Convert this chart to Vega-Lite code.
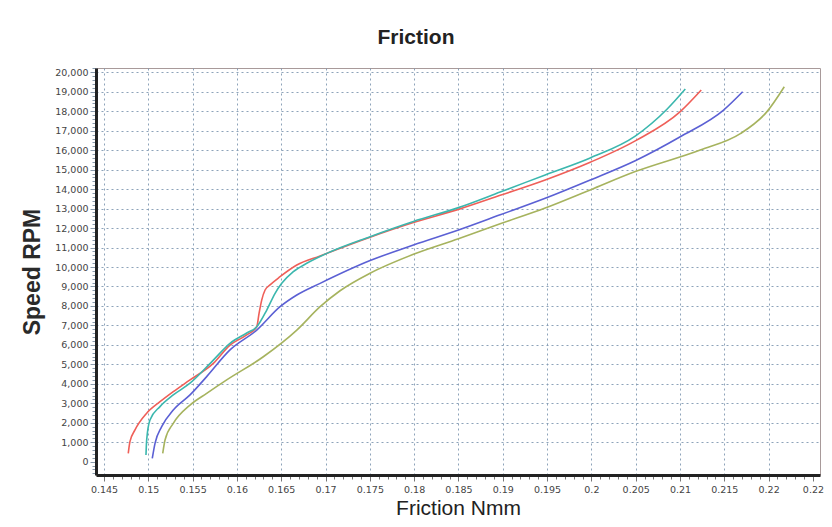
{
  "$schema": "https://vega.github.io/schema/vega-lite/v6.json",
  "width": 724,
  "height": 407,
  "autosize": "none",
  "padding": {"left": 96, "top": 68, "right": 12, "bottom": 52},
  "background": "white",
  "title": {"text": "Friction", "font": "Liberation Sans", "fontSize": 21, "fontWeight": "bold", "color": "#222222", "dx": -42, "offset": 15},
  "data": {"values": [
    {"run": "A", "friction": 0.14774, "speed": 430},
    {"run": "A", "friction": 0.14793, "speed": 1030},
    {"run": "A", "friction": 0.14850, "speed": 1630},
    {"run": "A", "friction": 0.14982, "speed": 2490},
    {"run": "A", "friction": 0.15132, "speed": 3080},
    {"run": "A", "friction": 0.15282, "speed": 3600},
    {"run": "A", "friction": 0.15471, "speed": 4200},
    {"run": "A", "friction": 0.15734, "speed": 5050},
    {"run": "A", "friction": 0.15922, "speed": 5990},
    {"run": "A", "friction": 0.16111, "speed": 6510},
    {"run": "A", "friction": 0.16224, "speed": 6930},
    {"run": "A", "friction": 0.16250, "speed": 7620},
    {"run": "A", "friction": 0.16280, "speed": 8300},
    {"run": "A", "friction": 0.16318, "speed": 8820},
    {"run": "A", "friction": 0.16374, "speed": 9080},
    {"run": "A", "friction": 0.16487, "speed": 9500},
    {"run": "A", "friction": 0.16676, "speed": 10100},
    {"run": "A", "friction": 0.16939, "speed": 10570},
    {"run": "A", "friction": 0.17503, "speed": 11530},
    {"run": "A", "friction": 0.17992, "speed": 12280},
    {"run": "A", "friction": 0.18500, "speed": 12960},
    {"run": "A", "friction": 0.18971, "speed": 13680},
    {"run": "A", "friction": 0.19479, "speed": 14470},
    {"run": "A", "friction": 0.19987, "speed": 15380},
    {"run": "A", "friction": 0.20495, "speed": 16480},
    {"run": "A", "friction": 0.21003, "speed": 17980},
    {"run": "A", "friction": 0.21240, "speed": 19090},
    {"run": "B", "friction": 0.14974, "speed": 340},
    {"run": "B", "friction": 0.14982, "speed": 1120},
    {"run": "B", "friction": 0.15019, "speed": 2140},
    {"run": "B", "friction": 0.15132, "speed": 2830},
    {"run": "B", "friction": 0.15282, "speed": 3430},
    {"run": "B", "friction": 0.15471, "speed": 4030},
    {"run": "B", "friction": 0.15734, "speed": 5220},
    {"run": "B", "friction": 0.15922, "speed": 6080},
    {"run": "B", "friction": 0.16111, "speed": 6610},
    {"run": "B", "friction": 0.16224, "speed": 6930},
    {"run": "B", "friction": 0.16337, "speed": 7790},
    {"run": "B", "friction": 0.16431, "speed": 8650},
    {"run": "B", "friction": 0.16506, "speed": 9160},
    {"run": "B", "friction": 0.16637, "speed": 9760},
    {"run": "B", "friction": 0.16788, "speed": 10190},
    {"run": "B", "friction": 0.17014, "speed": 10700},
    {"run": "B", "friction": 0.17503, "speed": 11560},
    {"run": "B", "friction": 0.17992, "speed": 12340},
    {"run": "B", "friction": 0.18500, "speed": 13050},
    {"run": "B", "friction": 0.18971, "speed": 13850},
    {"run": "B", "friction": 0.19479, "speed": 14730},
    {"run": "B", "friction": 0.19987, "speed": 15600},
    {"run": "B", "friction": 0.20495, "speed": 16720},
    {"run": "B", "friction": 0.20853, "speed": 18100},
    {"run": "B", "friction": 0.21060, "speed": 19140},
    {"run": "C", "friction": 0.15045, "speed": 175},
    {"run": "C", "friction": 0.15076, "speed": 945},
    {"run": "C", "friction": 0.15151, "speed": 1800},
    {"run": "C", "friction": 0.15282, "speed": 2655},
    {"run": "C", "friction": 0.15471, "speed": 3430},
    {"run": "C", "friction": 0.15659, "speed": 4370},
    {"run": "C", "friction": 0.15922, "speed": 5740},
    {"run": "C", "friction": 0.16224, "speed": 6760},
    {"run": "C", "friction": 0.16487, "speed": 7960},
    {"run": "C", "friction": 0.16676, "speed": 8560},
    {"run": "C", "friction": 0.16939, "speed": 9160},
    {"run": "C", "friction": 0.17503, "speed": 10330},
    {"run": "C", "friction": 0.17992, "speed": 11130},
    {"run": "C", "friction": 0.18500, "speed": 11900},
    {"run": "C", "friction": 0.18971, "speed": 12680},
    {"run": "C", "friction": 0.19479, "speed": 13530},
    {"run": "C", "friction": 0.19987, "speed": 14470},
    {"run": "C", "friction": 0.20495, "speed": 15460},
    {"run": "C", "friction": 0.21003, "speed": 16690},
    {"run": "C", "friction": 0.21492, "speed": 18060},
    {"run": "C", "friction": 0.21707, "speed": 19000},
    {"run": "D", "friction": 0.15163, "speed": 430},
    {"run": "D", "friction": 0.15189, "speed": 1115},
    {"run": "D", "friction": 0.15282, "speed": 1970},
    {"run": "D", "friction": 0.15471, "speed": 2910},
    {"run": "D", "friction": 0.15659, "speed": 3510},
    {"run": "D", "friction": 0.15885, "speed": 4200},
    {"run": "D", "friction": 0.16298, "speed": 5390},
    {"run": "D", "friction": 0.16676, "speed": 6760},
    {"run": "D", "friction": 0.16939, "speed": 7960},
    {"run": "D", "friction": 0.17164, "speed": 8780},
    {"run": "D", "friction": 0.17503, "speed": 9680},
    {"run": "D", "friction": 0.17992, "speed": 10650},
    {"run": "D", "friction": 0.18500, "speed": 11450},
    {"run": "D", "friction": 0.18971, "speed": 12220},
    {"run": "D", "friction": 0.19479, "speed": 13030},
    {"run": "D", "friction": 0.19987, "speed": 13960},
    {"run": "D", "friction": 0.20495, "speed": 14900},
    {"run": "D", "friction": 0.21229, "speed": 16010},
    {"run": "D", "friction": 0.21681, "speed": 16850},
    {"run": "D", "friction": 0.21982, "speed": 17980},
    {"run": "D", "friction": 0.22177, "speed": 19260}
  ]},
  "mark": {"type": "line", "strokeWidth": 1.6, "interpolate": "monotone"},
  "encoding": {
    "x": {
      "field": "friction", "type": "quantitative",
      "scale": {"domain": [0.1441, 0.2258], "nice": false, "zero": false},
      "axis": {
        "title": "Friction Nmm",
        "titleFont": "Liberation Sans", "titleFontSize": 21, "titleFontWeight": "normal", "titleColor": "#222222", "titlePadding": 4,
        "values": [0.144,0.145,0.146,0.147,0.148,0.149,0.15,0.151,0.152,0.153,0.154,0.155,0.156,0.157,0.158,0.159,0.16,0.161,0.162,0.163,0.164,0.165,0.166,0.167,0.168,0.169,0.17,0.171,0.172,0.173,0.174,0.175,0.176,0.177,0.178,0.179,0.18,0.181,0.182,0.183,0.184,0.185,0.186,0.187,0.188,0.189,0.19,0.191,0.192,0.193,0.194,0.195,0.196,0.197,0.198,0.199,0.2,0.201,0.202,0.203,0.204,0.205,0.206,0.207,0.208,0.209,0.21,0.211,0.212,0.213,0.214,0.215,0.216,0.217,0.218,0.219,0.22,0.221,0.222,0.223,0.224,0.225],
        "labelExpr": "abs(datum.value*200 - round(datum.value*200)) < 0.01 && datum.value > 0.1445 ? (datum.value > 0.2249 ? '0.22' : format(datum.value, '~g')) : ''",
        "labelOverlap": false,
        "labelFont": "DejaVu Sans", "labelFontSize": 9.5, "labelColor": "#444444", "labelPadding": 3,
        "domainColor": "#222222", "domainWidth": 3,
        "tickColor": "#777777", "tickWidth": 1,
        "tickSize": {"condition": {"test": "abs(datum.value*200 - round(datum.value*200)) < 0.01", "value": 6}, "value": 4},
        "grid": true, "gridColor": "#8199b3", "gridDash": [2, 3], "gridWidth": 1,
        "gridOpacity": {"condition": {"test": "abs(datum.value*200 - round(datum.value*200)) < 0.01 && datum.value > 0.1445 && datum.value < 0.2249", "value": 0.9}, "value": 0}
      }
    },
    "y": {
      "field": "speed", "type": "quantitative",
      "scale": {"domain": [-683, 20221], "nice": false, "zero": false},
      "axis": {
        "title": "Speed RPM",
        "titleFont": "Liberation Sans", "titleFontSize": 23, "titleFontWeight": "bold", "titleColor": "#2a2a2a", "titlePadding": 10,
        "values": [-600,-400,-200,0,200,400,600,800,1000,1200,1400,1600,1800,2000,2200,2400,2600,2800,3000,3200,3400,3600,3800,4000,4200,4400,4600,4800,5000,5200,5400,5600,5800,6000,6200,6400,6600,6800,7000,7200,7400,7600,7800,8000,8200,8400,8600,8800,9000,9200,9400,9600,9800,10000,10200,10400,10600,10800,11000,11200,11400,11600,11800,12000,12200,12400,12600,12800,13000,13200,13400,13600,13800,14000,14200,14400,14600,14800,15000,15200,15400,15600,15800,16000,16200,16400,16600,16800,17000,17200,17400,17600,17800,18000,18200,18400,18600,18800,19000,19200,19400,19600,19800,20000,20200],
        "labelExpr": "datum.value % 1000 == 0 && datum.value >= 0 ? format(datum.value, ',') : ''",
        "labelOverlap": false,
        "labelFont": "DejaVu Sans", "labelFontSize": 9.5, "labelColor": "#444444", "labelPadding": 2,
        "domainColor": "#222222", "domainWidth": 3,
        "tickColor": "#8899aa", "tickWidth": 1,
        "tickSize": {"condition": {"test": "datum.value % 1000 == 0", "value": 6}, "value": 4},
        "grid": true, "gridColor": "#8199b3", "gridDash": [2, 3], "gridWidth": 1,
        "gridOpacity": {"condition": {"test": "datum.value % 1000 == 0 && datum.value > 0 && datum.value < 20100", "value": 0.9}, "value": 0}
      }
    },
    "color": {
      "field": "run", "type": "nominal",
      "scale": {"domain": ["A", "B", "C", "D"], "range": ["#ef5f58", "#3bb7ae", "#5b60d4", "#a6b35e"]},
      "legend": null
    },
    "order": {"field": "speed", "type": "quantitative"}
  },
  "config": {
    "view": {"stroke": "#a89a9a", "strokeWidth": 1}
  }
}
